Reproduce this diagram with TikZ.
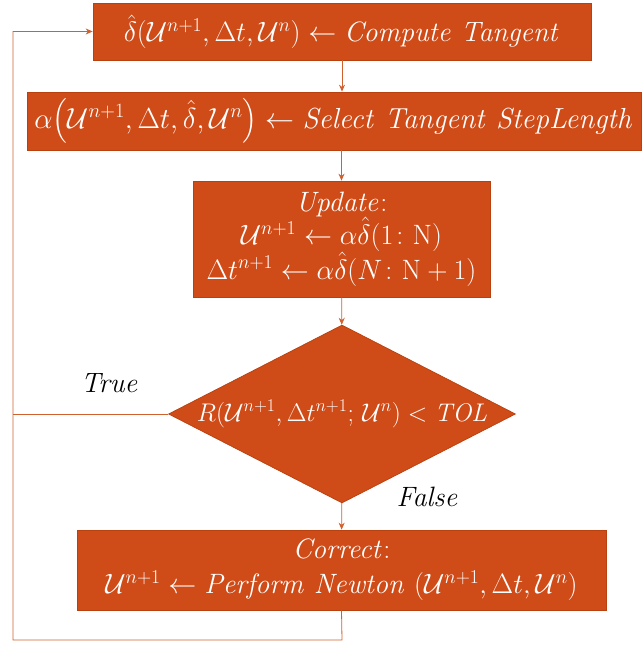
\RequirePackage{fix-cm}
\documentclass[tikz,border=0pt]{standalone}
\usepackage{amsmath}
\usetikzlibrary{shapes.geometric,arrows.meta}
\definecolor{boxfill}{HTML}{CF4B17}
\definecolor{boxline}{HTML}{B8410F}
\definecolor{linecol}{HTML}{D0602E}
\tikzset{
  procbox/.style={rectangle, fill=boxfill, draw=boxline, line width=0.7pt, text=white, inner sep=0pt, align=center, font=\fontsize{28}{33}\selectfont},
  decbox/.style={diamond, fill=boxfill, draw=boxline, line width=0.7pt, inner sep=0pt, aspect=1.95},
  conn/.style={draw=linecol, line width=0.8pt},
  arr/.style={conn, -{Stealth[length=7pt,width=6pt]}},
  lbl/.style={font=\fontsize{28}{30}\selectfont, text=black}
}
\begin{document}
\begin{tikzpicture}[x=1pt,y=-1pt]
\useasboundingbox (0,0) rectangle (643,658);
\node[procbox, minimum width=498pt, minimum height=57pt] (b1) at (342,31.5)
  {$\hat{\delta}(\mathcal{U}^{n+1},\Delta t,\mathcal{U}^{n}) \leftarrow \mathit{Compute\ Tangent}$};
\node[procbox, minimum width=614pt, minimum height=58pt, font=\fontsize{29}{33}\selectfont] (b2) at (334,121)
  {$\alpha\big(\mathcal{U}^{n+1},\Delta t,\hat{\delta},\mathcal{U}^{n}\big) \leftarrow \mathit{Select\ Tangent\ StepLength}$};
\node[procbox, minimum width=297pt, minimum height=116pt] (b3) at (341.5,239)
  {$\mathit{Update}$:\\
   $\mathcal{U}^{n+1} \leftarrow \alpha\hat{\delta}(1\colon\mathrm{N})$\\
   $\Delta t^{n+1} \leftarrow \alpha\hat{\delta}(N\colon\mathrm{N}+1)$};
\node[decbox, minimum width=347pt, minimum height=178pt,
  label={[text=white, font=\fontsize{25.5}{28}\selectfont]center:{$R(\mathcal{U}^{n+1},\Delta t^{n+1};\,\mathcal{U}^{n}) < \mathit{TOL}$}}] (d) at (342,414) {};
\node[procbox, minimum width=529pt, minimum height=80pt, font=\fontsize{28}{35}\selectfont] (b4) at (341.5,570)
  {$\mathit{Correct}$:\\
   $\mathcal{U}^{n+1} \leftarrow \mathit{Perform\ Newton}\ (\mathcal{U}^{n+1},\Delta t,\mathcal{U}^{n})$};
\node[lbl] (t) at (110,383) {$\mathit{True}$};
\node[lbl] (f) at (428,497) {$\mathit{False}$};
\coordinate (c1) at (342,640);
\coordinate (c2) at (13,640);
\coordinate (c3) at (13,31.5);
\coordinate (c4) at (13,414);
\draw[arr] (b1.south) -- (b1.south |- b2.north);
\draw[arr] (b2.south -| b3) -- (b3);
\draw[arr] (b3) -- (d);
\draw[arr] (d) -- (b4);
\draw[arr] (b4.south) -- (c1) -- (c2) -- (c3) -- (b1.west);
\draw[conn] (d.west) -- (c4);
\end{tikzpicture}
\end{document}
